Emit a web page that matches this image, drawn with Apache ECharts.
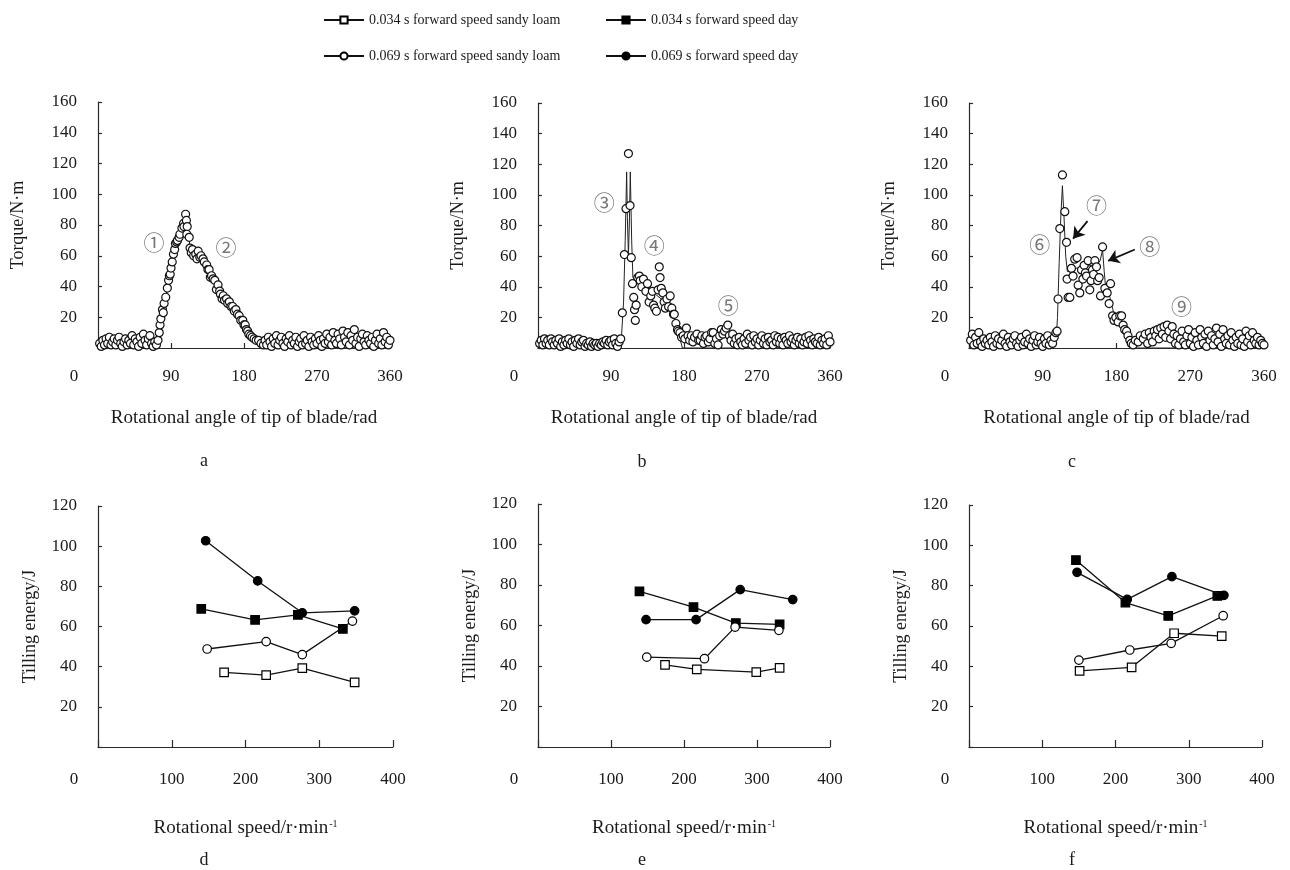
<!DOCTYPE html>
<html><head><meta charset="utf-8">
<script src="https://cdn.jsdelivr.net/npm/echarts@6/dist/echarts.min.js"></script>
<style>html,body{margin:0;padding:0;background:#fff}#c{width:1290px;height:870px}</style>
</head><body><div id="c"></div>
<script>
// ---------- DATA ----------
const angleTicks = [0, 90, 180, 270, 360];
const torqueTicks = [20, 40, 60, 80, 100, 120, 140, 160];
const speedTicks = [0, 100, 200, 300, 400];
const energyTicks = [20, 40, 60, 80, 100, 120];
const panelLetters = ['a', 'b', 'c', 'd', 'e', 'f'];
const legendNames = ['0.034 s forward speed sandy loam', '0.034 s forward speed day',
                     '0.069 s forward speed sandy loam', '0.069 s forward speed day'];

// panel a: measured torque (angle, torque)
const torqueA = [[2,3],[4,1],[6,5],[8,2],[10,6],[12,3],[14,7],[16,2],[18,4],[20,6],[22,2],[24,5],[26,7],[28,3],[30,1],[32,4],[34,6],[36,2],[38,5],[40,3],[42,8],[44,2],[46,6],[48,4],[50,1],[52,7],[54,3],[56,9],[58,5],[60,2],[62,6],[64,8],[66,3],[68,1],[70,4],[72,2],
[74,5],[75.5,10],[76.5,15],[77.5,19],[79.5,25],[80.5,23],[81.5,29],[83.5,33],[85.5,39],[87,44],[88,47],[89,48],[90,52],[91.5,56],[93,61],[94.5,64],[95.5,68],[97,69],[98,70],[100,72],[101,74],[103.5,78],[105.5,81],[106,79],[108,87],[109,83],[110,79],[109.5,74],[112.5,72],[113.5,65],[115,62],[116.5,64],[118,60],[120.5,61],[122,58],[123.5,63],[125.5,59],[127,60],[129.5,58],[131,56],[134,54],[135.5,51],[137,51],[138.5,46],[140,47],[142,45],[144,44],[146,38],[148,41],[150,37],[151,35],[153,32],[154.5,34],[156,31],[158.5,32],[160,29],[162,30],[164,27],[166,27],[168,24],[170,25],[172,22],[174,21],[176,18],[178.5,18],[180,15],[181.5,15],[183,12],[184.5,11],[186,9],[188,8],[190,7],[192.5,6],[195,5],[198,5],[201,3],[204,2],
[206,5],[208,2],[210,7],[212,4],[214,1],[216,6],[218,3],[220,8],[222,2],[224,5],[226,7],[228,3],[230,1],[232,6],[234,4],[236,8],[238,2],[240,5],[242,3],[244,7],[246,1],[248,4],[250,6],[252,2],[254,8],[256,3],[258,5],[260,1],[262,7],[264,4],[266,2],[268,6],[270,3],[272,8],[274,5],[276,1],[278,6],[280,3],[282,9],[284,4],[286,7],[288,2],[290,10],[292,5],[294,3],[296,9],[298,6],[300,2],[302,11],[304,7],[306,4],[308,10],[310,2],[312,8],[314,5],[316,12],[318,3],[320,7],[322,1],[324,6],[326,9],[328,4],[330,2],[332,8],[334,5],[336,3],[338,7],[340,1],[342,5],[344,9],[346,3],[348,6],[350,2],[352,10],[354,4],[356,7],[358,2],[360,5]];

// panel b
const torqueB = [[2,3],[4,5],[6,2],[8,6],[10,3],[12,5],[14,2],[16,6],[18,4],[20,2],[22,5],[24,3],[26,6],[28,1],[30,4],[32,2],[34,5],[36,3],[38,6],[40,2],[42,4],[44,1],[46,5],[48,3],[50,6],[52,2],[54,4],[56,5],[58,1],[60,3],[62,2],[64,4],[66,1],[68,3],[70,2],[72,3],[74,1],[76,3],[78,2],[80,4],[82,3],[84,5],[86,2],[88,4],[90,5],[92,2],[94,6],[96,3],[98,1],[100,4],[102,6],
[104,23],[106.5,61],[108.5,91],[111.5,127],[113.5,93],[115,59],[116.5,42],[118,33],[119,25],[120,18],[121,28],[123,46],[125,47],[126,44],[128,40],[130,45],[133,37],[135,42],[137,30],[139,34],[141,37],[142.5,28],[144,26],[146,24],[148,38],[149.5,53],[150.5,46],[152,39],[154,36],[155.5,30],[157,26],[159,32],[161,27],[163,34],[165,26],[167,22],[168,22],[170,16],[172,12],[173,11],[175,10],[177,7],[179,8],[181,6],[183,13],[185,8],[187,5],[189,8],[191,4],[193,7],[196,9],[198,5],[200,5],[202,8],[204,3],[206,7],[208,8],[210,4],[212,6],[214,10],[216,10],[218,3],[220,6],[222,2],[224,8],[226,12],[228,9],[230,11],[232,13],[234,15],[236,8],[238,5],[240,9],[242,3],[244,6],[246,2],[248,7],[250,4],[252,2],[254,6],[256,3],[258,9],[260,5],[262,7],[264,2],[266,8],[268,4],[270,6],[272,2],[274,5],[276,8],[278,3],[280,6],[282,2],[284,7],[286,4],[288,5],[290,2],[292,8],[294,4],[296,7],[298,3],[300,6],[302,2],[304,7],[306,5],[308,3],[310,8],[312,4],[314,6],[316,2],[318,5],[320,7],[322,3],[324,6],[326,2],[328,4],[330,7],[332,3],[334,8],[336,5],[338,2],[340,6],[342,4],[344,3],[346,7],[348,2],[350,5],[352,3],[354,6],[356,2],[358,8],[360,4]];

// panel c
const torqueC = [[2,5],[4,9],[6,2],[8,7],[10,3],[12,10],[14,4],[16,1],[18,6],[20,3],[22,5],[24,2],[26,7],[28,4],[30,1],[32,8],[34,3],[36,6],[38,2],[40,5],[42,9],[44,3],[46,1],[48,7],[50,4],[52,2],[54,6],[56,8],[58,3],[60,1],[62,5],[64,7],[66,2],[68,4],[70,9],[72,3],[74,6],[76,1],[78,5],[80,8],[82,2],[84,4],[86,7],[88,3],[90,1],[92,6],[94,3],[96,8],[98,2],[100,5],[102,3],[104,7],
[106,10],[107.5,11],[108.7,32],[110.8,78],[114,113],[116.9,89],[119,69],[119.7,45],[121,33],[123,33],[125,52],[127,47],[129,58],[131.9,59],[133.2,41],[135.2,36],[137.3,51],[139,45],[140.5,54],[142,49],[143.4,47],[145.4,57],[147.4,38],[149,44],[150.7,51],[152,48],[153.6,57],[155.6,53],[157,44],[158.8,46],[160.5,34],[163,66],[165.8,39],[168.6,36],[171,29],[172.7,42],[175.2,21],[177,18],[179.2,20],[182,17],[184,21],[186.2,21],[188.1,15],[190,12],[192.3,11],[194,8],[196.3,5],[198,3],[200.3,2],[203,5],[206.5,4],[209,8],[212.6,6],[215,9],[218,3],[220,10],[222,7],[224,4],[226,11],[228,8],[230,12],[232,6],[234,13],[236,9],[238,14],[240,7],[242,15],[244,11],[246,6],[248,14],[250,9],[252,3],[254,8],[256,2],[258,6],[260,11],[262,4],[264,2],[266,8],[268,12],[270,3],[272,7],[274,1],[276,10],[278,5],[280,2],[282,12],[284,7],[286,3],[288,9],[290,1],[292,11],[294,5],[296,8],[298,2],[300,6],[302,13],[304,4],[306,9],[308,1],[310,12],[312,6],[314,3],[316,8],[318,2],[320,10],[322,5],[324,1],[326,7],[328,3],[330,9],[332,2],[334,6],[336,1],[338,11],[340,4],[342,8],[344,2],[346,10],[348,5],[350,3],[352,7],[354,2],[356,5],[358,3],[360,2]];

// thin curves
const curveA = [[0,3],[72,3],[76,10],[82,29],[88,46],[94,63],[100,72],[105,80],[108,86],[111,76],[114,64],[120,61],[130,57],[140,46],[150,38],[160,30],[170,23],[180,14],[188,7],[196,3],[205,0],[360,0]];
const curveB = [[0,2],[100,2],[103,8],[105.5,30],[107.5,70],[109.3,115],[110.2,85],[111.5,60],[112.8,85],[113.8,115],[115.5,70],[117,46],[120,44],[128,43],[136,38],[145,35],[152,32],[160,28],[166,22],[171,14],[175,6],[178,0],[360,0]];
const curveC = [[0,2],[106,3],[108,20],[110,55],[112,85],[114,106],[116,85],[118,60],[120,50],[130,52],[140,53],[150,54],[157,55],[160,57],[163,64],[165,50],[167,38],[172,33],[177,22],[183,17],[190,10],[197,3],[203,0],[360,0]];

// stage markers (angle, torque, label)
const marksA = [[69,69,'①'],[157.8,65.8,'②']];
const marksB = [[81.7,95.4,'③'],[143.2,67.5,'④'],[234.7,28.3,'⑤']];
const marksC = [[86.4,67.7,'⑥'],[155.6,93.2,'⑦'],[220.7,66.4,'⑧'],[259.4,27.2,'⑨']];
const arrowsC = [[[144.6,82.9],[127,71.4]],[[202.4,64.3],[169.8,56.9]]];

// tilling energy (rotational speed, energy)
const dSandy034 = [[171,37.2],[228,35.8],[277,39.3],[348,32.2]];
const dDay034   = [[140,68.8],[213,63.3],[271,65.8],[332,58.8]];
const dSandy069 = [[148,48.8],[228,52.5],[277,46],[345,62.7]];
const dDay069   = [[146,102.7],[216.5,82.7],[277,66.8],[348,67.8]];

const eSandy034 = [[174,40.6],[217.5,38.3],[299,37],[331,39.1]];
const eDay034   = [[139,76.9],[213,69.1],[271,61.2],[331,60.6]];
const eSandy069 = [[149,44.4],[228,43.6],[270,59.2],[330,57.6]];
const eDay069   = [[148,62.9],[216.5,62.9],[277,77.7],[349,72.8]];

const fSandy034 = [[151,37.7],[222,39.5],[280,56.4],[345,55]];
const fDay034   = [[146,92.7],[213.5,71.6],[272,65],[339,74.9]];
const fSandy069 = [[150,43.1],[219.5,48.1],[276,51.4],[347,65.1]];
const fDay069   = [[147.5,86.6],[216,73.2],[277,84.5],[348,75.2]];

// ---------- CHART ----------
const FONT = '"Liberation Serif","Times New Roman",serif';
const TXT = '#1a1a1a';
const AX = '#2a2a2a';

const grids = [
  {left: 98,  top: 102, width: 292, height: 246},
  {left: 538, top: 103, width: 292, height: 245},
  {left: 969, top: 103, width: 295, height: 245},
  {left: 98,  top: 506, width: 295, height: 241},
  {left: 538, top: 504, width: 292, height: 243},
  {left: 969, top: 505, width: 293, height: 242}
];

function xAxisFor(i) {
  const top = i < 3;
  const ticks = top ? angleTicks : speedTicks;
  return {
    type: 'value', gridIndex: i,
    min: ticks[0], max: ticks[ticks.length - 1], interval: ticks[1] - ticks[0],
    name: top ? 'Rotational angle of tip of blade/rad' : 'Rotational speed/r·min{sup|-1}',
    nameLocation: 'middle', nameGap: top ? 61 : 72,
    nameTextStyle: {fontFamily: FONT, fontSize: 19, color: TXT,
      rich: {sup: {fontFamily: FONT, fontSize: 10, color: TXT, verticalAlign: 'top', padding: [0, 0, 9, 1]}}},
    axisLine: {show: true, lineStyle: {color: AX, width: 1.2}},
    axisTick: {show: true, inside: true, length: top ? 5 : 7, lineStyle: {color: AX, width: 1.2}},
    splitLine: {show: false},
    axisLabel: {
      margin: top ? 20 : 24, fontFamily: FONT, fontSize: 17, color: TXT,
      formatter: v => v === 0 ? '{z|0}' : String(v),
      rich: {z: {fontFamily: FONT, fontSize: 17, color: TXT, padding: [0, 48, 0, 0]}}
    }
  };
}
function yAxisFor(i) {
  const top = i < 3;
  const ticks = top ? torqueTicks : energyTicks;
  return {
    type: 'value', gridIndex: i,
    min: 0, max: ticks[ticks.length - 1], interval: ticks[1] - ticks[0],
    name: top ? 'Torque/N·m' : 'Tilling energy/J',
    nameLocation: 'middle', nameGap: top ? 71 : 59, nameRotate: 90,
    nameTextStyle: {fontFamily: FONT, fontSize: 18, color: TXT},
    axisLine: {show: true, lineStyle: {color: AX, width: 1.2}},
    axisTick: {show: true, inside: true, length: 4, lineStyle: {color: AX, width: 1.2}},
    splitLine: {show: false},
    axisLabel: {margin: 21, fontFamily: FONT, fontSize: 17, color: TXT,
      formatter: v => v === 0 ? '' : String(v)}
  };
}

const series = [];
const torqueSets = [torqueA, torqueB, torqueC];
const curveSets = [curveA, curveB, curveC];
const markSets = [marksA, marksB, marksC];
for (let i = 0; i < 3; i++) {
  const ln = {
    type: 'line', xAxisIndex: i, yAxisIndex: i, data: curveSets[i],
    symbol: 'none', lineStyle: {color: '#222', width: 1}, z: 2, silent: true
  };
  if (i === 2) {
    ln.markLine = {
      silent: true, symbol: ['none', 'arrow'], symbolSize: 11,
      lineStyle: {color: '#111', width: 1.8, type: 'solid'}, label: {show: false},
      emphasis: {disabled: true},
      data: arrowsC.map(a => [{coord: a[0]}, {coord: a[1]}])
    };
  }
  series.push(ln);
  series.push({
    type: 'scatter', xAxisIndex: i, yAxisIndex: i, data: torqueSets[i],
    symbol: 'circle', symbolSize: 8,
    itemStyle: {color: '#fff', borderColor: '#111', borderWidth: 1.2, opacity: 1},
    z: 3, silent: true
  });
  series.push({
    type: 'scatter', xAxisIndex: i, yAxisIndex: i, data: markSets[i],
    symbolSize: 1, itemStyle: {color: 'rgba(0,0,0,0)'}, z: 4, silent: true,
    label: {show: true, position: 'inside', formatter: p => p.value[2],
      fontFamily: '"Noto Sans CJK SC","DejaVu Sans",sans-serif', fontSize: 21, color: '#555'}
  });
}

const energySets = [
  [dSandy034, dDay034, dSandy069, dDay069],
  [eSandy034, eDay034, eSandy069, eDay069],
  [fSandy034, fDay034, fSandy069, fDay069]
];
const styleFor = [
  {symbol: 'rect', fill: '#fff'},
  {symbol: 'rect', fill: '#000'},
  {symbol: 'circle', fill: '#fff'},
  {symbol: 'circle', fill: '#000'}
];
for (let p = 0; p < 3; p++) {
  for (let s = 0; s < 4; s++) {
    series.push({
      type: 'line', name: legendNames[s], xAxisIndex: 3 + p, yAxisIndex: 3 + p,
      data: energySets[p][s], symbol: styleFor[s].symbol, symbolSize: 8.5, showSymbol: true,
      lineStyle: {color: '#111', width: 1.3},
      itemStyle: {color: styleFor[s].fill, borderColor: '#000', borderWidth: 1.2},
      z: 3 + s, silent: true
    });
  }
}

const legendPos = [[318, 8], [600, 8], [318, 44], [600, 44]];
const legends = legendNames.map((n, k) => ({
  data: [n], left: legendPos[k][0], top: legendPos[k][1],
  itemWidth: 40, itemHeight: 9, selectedMode: false,
  textStyle: {fontFamily: FONT, fontSize: 14, color: TXT}
}));

const letterPos = [[199, 447], [637, 448], [1067, 448], [199, 846], [637, 846], [1067, 846]];
const titles = panelLetters.map((t, k) => ({
  text: t, left: letterPos[k][0], top: letterPos[k][1], textAlign: 'center',
  textStyle: {fontFamily: FONT, fontSize: 18, fontWeight: 'normal', color: TXT}
}));

const chart = echarts.init(document.getElementById('c'), null, {renderer: 'canvas'});
chart.setOption({
  animation: false,
  backgroundColor: '#fff',
  title: titles,
  legend: legends,
  grid: grids,
  xAxis: grids.map((g, i) => xAxisFor(i)),
  yAxis: grids.map((g, i) => yAxisFor(i)),
  series: series
});
</script></body></html>
